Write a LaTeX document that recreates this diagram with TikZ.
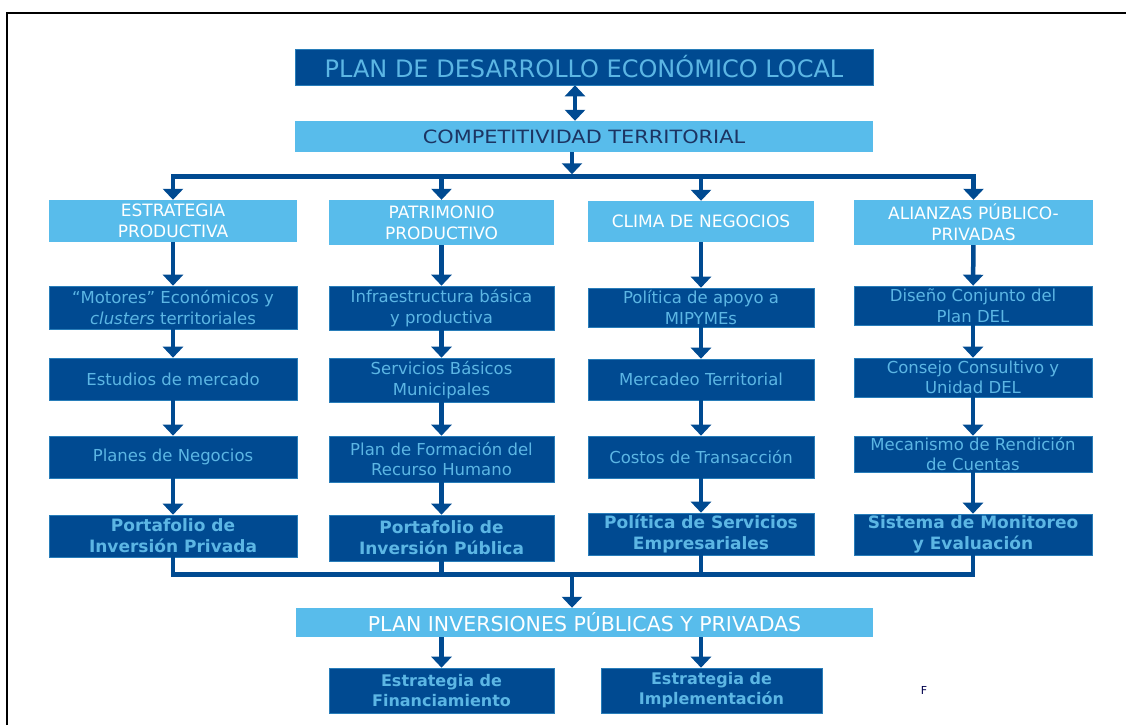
\documentclass[tikz,border=0pt]{standalone}
\usepackage{fontspec}
\setmainfont{DejaVu Sans}
\newfontfamily\compfont[FakeStretch=1.14]{DejaVu Sans}
\usetikzlibrary{arrows.meta}
\definecolor{dkb}{RGB}{0,74,145}
\definecolor{ltb}{RGB}{88,188,235}
\definecolor{txb}{RGB}{92,182,228}
\definecolor{navy}{RGB}{28,52,98}
\begin{document}
\begin{tikzpicture}[x=1pt,y=-1pt,
  dbox/.style={rectangle, fill=dkb, draw=ltb!45!dkb, line width=0.6pt, inner sep=0pt, align=center, text=txb, font=\fontsize{16.5}{20.5}\selectfont},
  dboxb/.style={dbox, font=\fontsize{17}{21}\selectfont\bfseries},
  lbox/.style={rectangle, fill=ltb, inner sep=0pt, align=center, text=white, font=\fontsize{17}{21}\selectfont},
  conn/.style={draw=dkb, line width=4.5pt},
  tipa/.tip={Triangle[width=20pt,length=11pt]},
  arr/.style={conn, -tipa},
  darr/.style={conn, tipa-tipa},
]
\useasboundingbox (0,0) rectangle (1126,725);
\draw[line width=2pt, black] (6.5,725) -- (6.5,13) -- (1126,13);

% top
\node[dbox, minimum width=578pt, minimum height=36pt, font=\fontsize{24}{28}\selectfont] (title) at (584,67) {PLAN DE DESARROLLO ECONÓMICO LOCAL};
\node[lbox, minimum width=578pt, minimum height=31pt, text=navy, font=\compfont\fontsize{18.3}{22}\selectfont] (comp) at (584,136.5) {COMPETITIVIDAD TERRITORIAL};

% headers
\node[lbox, minimum width=248pt, minimum height=42pt] (h1) at (173,221) {ESTRATEGIA\\PRODUCTIVA};
\node[lbox, minimum width=225pt, minimum height=45pt] (h2) at (441.5,222.5) {PATRIMONIO\\PRODUCTIVO};
\node[lbox, minimum width=226pt, minimum height=41pt] (h3) at (701,221.5) {CLIMA DE NEGOCIOS};
\node[lbox, minimum width=239pt, minimum height=45pt] (h4) at (973.5,222.5) {ALIANZAS PÚBLICO-\\PRIVADAS};

% column 1
\node[dbox, minimum width=248pt, minimum height=43pt] (a2) at (173,307.5) {“Motores” Económicos y\\\textit{clusters} territoriales};
\node[dbox, minimum width=248pt, minimum height=42pt] (a3) at (173,379) {Estudios de mercado};
\node[dbox, minimum width=248pt, minimum height=42pt] (a4) at (173,457) {Planes de Negocios};
\node[dboxb, minimum width=248pt, minimum height=42pt] (a5) at (173,536) {Portafolio de\\Inversión Privada};

% column 2
\node[dbox, minimum width=225pt, minimum height=44pt] (b2) at (441.5,308) {Infraestructura básica\\y productiva};
\node[dbox, minimum width=225pt, minimum height=44pt] (b3) at (441.5,380) {Servicios Básicos\\Municipales};
\node[dbox, minimum width=225pt, minimum height=46pt] (b4) at (441.5,459) {Plan de Formación del\\Recurso Humano};
\node[dboxb, minimum width=225pt, minimum height=46pt] (b5) at (441.5,538) {Portafolio de\\Inversión Pública};

% column 3
\node[dbox, minimum width=226pt, minimum height=39pt] (c2) at (701,307.5) {Política de apoyo a\\MIPYMEs};
\node[dbox, minimum width=226pt, minimum height=41pt] (c3) at (701,379.5) {Mercadeo Territorial};
\node[dbox, minimum width=226pt, minimum height=42pt] (c4) at (701,457) {Costos de Transacción};
\node[dboxb, minimum width=226pt, minimum height=42pt] (c5) at (701,534) {Política de Servicios\\Empresariales};

% column 4
\node[dbox, minimum width=238pt, minimum height=39pt] (d2) at (973,305.5) {Diseño Conjunto del\\Plan DEL};
\node[dbox, minimum width=238pt, minimum height=39pt] (d3) at (973,377.5) {Consejo Consultivo y\\Unidad DEL};
\node[dbox, minimum width=238pt, minimum height=36pt] (d4) at (973,454) {Mecanismo de Rendición\\de Cuentas};
\node[dboxb, minimum width=238pt, minimum height=41pt] (d5) at (973,534.5) {Sistema de Monitoreo\\y Evaluación};

% bottom
\node[lbox, minimum width=577pt, minimum height=29pt, font=\fontsize{20.5}{24}\selectfont] (pinv) at (584.5,622.5) {PLAN INVERSIONES PÚBLICAS Y PRIVADAS};
\node[dbox, minimum width=225pt, minimum height=45pt, font=\fontsize{16}{20}\selectfont\bfseries] (fin) at (441.5,690.5) {Estrategia de\\Financiamiento};
\node[dbox, minimum width=221pt, minimum height=45pt, font=\fontsize{16}{20}\selectfont\bfseries] (impl) at (711.5,690.5) {Estrategia de\\Implementación};
\node[font=\fontsize{11}{11}\selectfont, text=black!70!blue, inner sep=0pt] (fn) at (924,690) {F};

% connectors top
\coordinate (bus) at (572,176.5);
\coordinate (bus2) at (572,574.5);
\draw[darr] ([xshift=-9pt]title.south) -- ([xshift=-9pt]comp.north);
\draw[arr] (comp.south -| bus) -- ([yshift=2.25pt]bus);
\draw[darr] (h1.north) |- (bus) -| (h4.north);
\draw[arr] (bus -| h2.north) -- (h2.north);
\draw[arr] (bus -| h3.north) -- (h3.north);

% column arrows
\draw[arr] (h1) -- (a2); \draw[arr] (a2) -- (a3); \draw[arr] (a3) -- (a4); \draw[arr] (a4) -- (a5);
\draw[arr] (h2) -- (b2); \draw[arr] (b2) -- (b3); \draw[arr] (b3) -- (b4); \draw[arr] (b4) -- (b5);
\draw[arr] (h3) -- (c2); \draw[arr] (c2) -- (c3); \draw[arr] (c3) -- (c4); \draw[arr] (c4) -- (c5);
\draw[arr] (h4) -- (d2); \draw[arr] (d2) -- (d3); \draw[arr] (d3) -- (d4); \draw[arr] (d4) -- (d5);

% bottom bus
\draw[conn] (a5.south) |- (bus2) -| (d5.south);
\draw[conn] (b5.south) -- (b5.south |- bus2);
\draw[conn] (c5.south) -- (c5.south |- bus2);
\draw[arr] (bus2) -- (bus2 |- pinv.north);
\draw[arr] (pinv.south -| fin.north) -- (fin.north);
\draw[arr] (pinv.south -| h3.south) -- (impl.north -| h3.south);
\end{tikzpicture}
\end{document}
